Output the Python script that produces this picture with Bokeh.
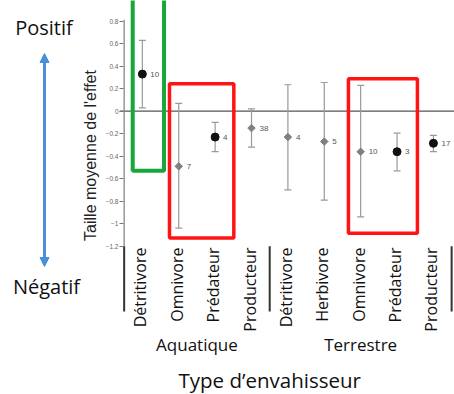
import math
from bokeh.plotting import figure
from bokeh.layouts import row
from bokeh.models import (ColumnDataSource, Whisker, TeeHead, Span, Arrow,
                          NormalHead, FixedTicker, CustomJSTickFormatter, Range1d)
from bokeh.core.properties import value
from bokeh.embed import file_html
from bokeh.resources import INLINE

# ---------------- data ----------------
categories = ["Détritivore", "Omnivore", "Prédateur", "Producteur",
              "Détritivore", "Herbivore", "Omnivore", "Prédateur", "Producteur"]
group_names = ["Aquatique", "Terrestre"]
group_sizes = [4, 5]
means = [0.33, -0.49, -0.23, -0.15, -0.23, -0.27, -0.36, -0.36, -0.285]
lower = [0.03, -1.04, -0.36, -0.32, -0.70, -0.79, -0.94, -0.53, -0.36]
upper = [0.63, 0.07, -0.10, 0.02, 0.235, 0.255, 0.23, -0.195, -0.215]
n_studies = [10, 7, 4, 38, 4, 5, 10, 3, 17]
significant = [True, False, True, False, False, False, False, True, True]
y_ticks = [0.8, 0.6, 0.4, 0.2, 0.0, -0.2, -0.4, -0.6, -0.8, -1.0, -1.2]
y_title = "Taille moyenne de l'effet"
x_title = "Type d\u2019envahisseur"
top_note = "Positif"
bottom_note = "Négatif"
# highlight boxes (data units)
box_left = [-0.265, 0.746, 5.664]
box_right = [0.596, 2.514, 7.560]
box_bottom = [-0.530, -1.127, -1.085]
box_top = [1.5, 0.244, 0.288]
box_colors = ["#17a83b", "#ff1414", "#ff1414"]
box_widths = [4, 3.5, 3.5]

H = 394
LEFT_W = 102
MAIN_W = 352

# ---------------- left panel (notes, arrow, y title) ----------------
pl = figure(width=LEFT_W, height=H, output_backend="svg", toolbar_location=None,
            x_range=Range1d(0, LEFT_W), y_range=Range1d(H, 0),
            x_axis_location=None, y_axis_location=None,
            min_border_left=0, min_border_right=0, min_border_top=0,
            min_border_bottom=0)
pl.outline_line_color = None
pl.grid.visible = False

pl.text(x=[43.5], y=[26.5], text=[top_note], text_align="center",
        text_baseline="middle", text_font=value("Open Sans"),
        text_font_size="20px", text_color="#111111")
pl.text(x=[46], y=[285.5], text=[bottom_note], text_align="center",
        text_baseline="middle", text_font=value("Open Sans"),
        text_font_size="20px", text_color="#111111")
arrow_col = "#4a90d9"
pl.add_layout(Arrow(x_start=44, y_start=53, x_end=44, y_end=266,
                    line_color=arrow_col, line_width=3,
                    start=NormalHead(size=9, fill_color=arrow_col, line_color=arrow_col),
                    end=NormalHead(size=9, fill_color=arrow_col, line_color=arrow_col)))
pl.text(x=[89.5], y=[155], text=[y_title], angle=math.pi / 2, text_align="center",
        text_baseline="middle", text_font=value("Liberation Sans"),
        text_font_size="16px", text_color="#222222")

# ---------------- main chart ----------------
p = figure(width=MAIN_W, height=H, output_backend="svg", toolbar_location=None,
           x_range=Range1d(-0.628, 8.579), y_range=Range1d(-2.518, 0.984),
           x_axis_location=None, y_axis_location="left",
           min_border_left=15, min_border_right=0, min_border_top=0,
           min_border_bottom=0)
p.outline_line_color = None
p.grid.visible = False

yax = p.yaxis[0]
yax.ticker = FixedTicker(ticks=y_ticks)
yax.formatter = CustomJSTickFormatter(code="""
let s = tick.toFixed(1);
if (s.endsWith('.0')) { s = s.slice(0, -2); }
if (s === '-0') { s = '0'; }
return s.replace('-', '\u2212');
""")
yax.axis_line_color = None
yax.major_tick_in = 4
yax.major_tick_out = 0
yax.minor_tick_line_color = None
yax.major_tick_line_color = "#777777"
yax.major_label_text_font = "Liberation Sans"
yax.major_label_text_font_size = "6.5px"
yax.major_label_text_color = "#666666"
yax.major_label_standoff = 1

xs = list(range(len(categories)))

# zero line
p.add_layout(Span(location=0, dimension="width", line_color="#555555",
                  line_width=1.2, level="underlay"))

# axis line and group separators
bounds = [-0.5]
for g in group_sizes:
    bounds.append(bounds[-1] + g)
p.segment(x0=[-0.5], y0=[max(y_ticks) + 0.012], x1=[-0.5], y1=[min(y_ticks)],
          line_color="#888888", line_width=1.3)
p.segment(x0=bounds, y0=[min(y_ticks)] * len(bounds), x1=bounds,
          y1=[-1.78] * len(bounds), line_color="#333333", line_width=2)

# error bars
src = ColumnDataSource(dict(x=xs, mean=means, lo=lower, hi=upper,
                            n=[str(v) for v in n_studies]))
err_col = "#9a9a9a"
p.add_layout(Whisker(source=src, base="x", lower="lo", upper="hi",
                     dimension="height", line_color=err_col, line_width=1.2,
                     upper_head=TeeHead(size=7, line_color=err_col, line_width=1.2),
                     lower_head=TeeHead(size=7, line_color=err_col, line_width=1.2)))

sig_src = ColumnDataSource(dict(
    x=[x for x, s in zip(xs, significant) if s],
    y=[m for m, s in zip(means, significant) if s]))
ns_src = ColumnDataSource(dict(
    x=[x for x, s in zip(xs, significant) if not s],
    y=[m for m, s in zip(means, significant) if not s]))
p.scatter("x", "y", source=ns_src, marker="square", angle=math.pi / 4,
          size=5.3, fill_color="#808080", line_color="#808080")
p.scatter("x", "y", source=sig_src, marker="circle", size=8,
          fill_color="#111111", line_color="#111111")

p.text("x", "mean", text="n", source=src, x_offset=8, text_baseline="middle",
       text_align="left", text_font=value("Liberation Sans"),
       text_font_size="8px", text_color="#555555")

# category labels
p.text(x=xs, y=[-1.212] * len(xs), text=categories, angle=math.pi / 2,
       text_align="right", text_baseline="middle", x_offset=-2,
       text_font=value("Open Sans"), text_font_size="16px", text_color="#111111")

# group labels
centers = [(bounds[i] + bounds[i + 1]) / 2 for i in range(len(group_sizes))]
p.text(x=centers, y=[-2.075] * len(centers), text=group_names,
       text_align="center", text_baseline="middle",
       text_font=value("Open Sans"), text_font_size="17px", text_color="#111111")

# axis title (x)
p.text(x=[bounds[1]], y=[-2.391], text=[x_title], text_align="center",
       text_baseline="middle", text_font=value("Open Sans"),
       text_font_size="20.5px", text_color="#111111")

# highlight boxes
p.quad(left=box_left, right=box_right, bottom=box_bottom, top=box_top,
       fill_color=None, line_color=box_colors, line_width=box_widths)

layout = row(pl, p, spacing=0)
open("out.html", "w").write(file_html(layout, INLINE))
